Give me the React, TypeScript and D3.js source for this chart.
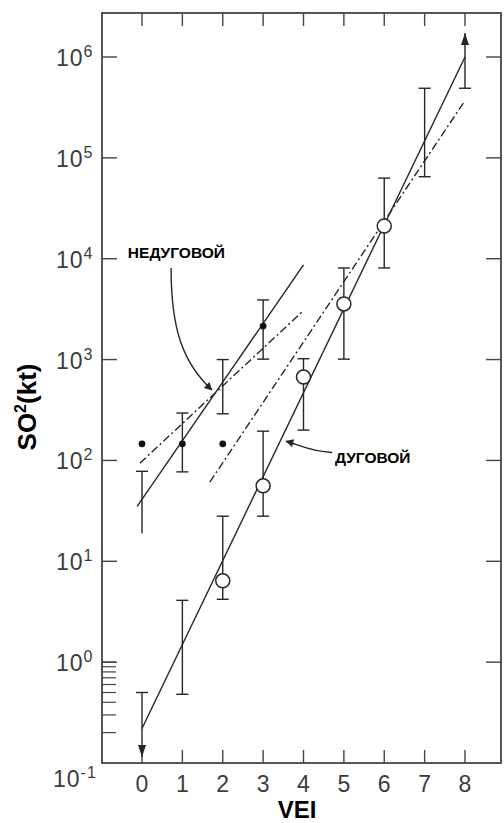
import React from 'react';
import * as d3 from 'd3';

const W = 504;
const H = 823;

// axis data
const veiTicks = [0, 1, 2, 3, 4, 5, 6, 7, 8];
const decadeLabels = [-1, 0, 1, 2, 3, 4, 5, 6];
const majorTickDecades = [0, 1, 2, 3, 4, 5, 6];
const minorTicks = [0.2, 0.3, 0.4, 0.5, 0.6, 0.7, 0.8, 0.9, 1];

// arc volcanism (дуговой) — open circles
const arcVei = [2, 3, 4, 5, 6];
const arcMean = [6.4, 56, 671, 3560, 21100];
// arc error bars
const arcBarVei = [0, 1, 2, 3, 4, 5, 6, 7, 8];
const arcBarLow = [0.115, 0.48, 4.2, 28, 200, 1010, 8100, 65000, 490000];
const arcBarHigh = [0.5, 4.1, 28, 195, 1020, 8100, 63000, 490000, 1.73e6];
const arcBarLowArrow = [true, false, false, false, false, false, false, false, false];
const arcBarHighArrow = [false, false, false, false, false, false, false, false, true];

// non-arc volcanism (недуговой) — filled dots
const nonArcVei = [0, 1, 2, 3];
const nonArcMean = [146, 146, 146, 2150];
const nonArcBarVei = [0, 1, 2, 3];
const nonArcBarLow = [19, 77, 290, 1010];
const nonArcBarHigh = [78, 295, 1000, 3900];
const nonArcBarLowCap = [false, true, true, true];

// regression lines
const arcFitVei = [0, 8];
const arcFit = [0.22, 1e6];
const arcFit2Vei = [1.68, 8];
const arcFit2 = [61, 3.7e5];
const nonArcFitVei = [-0.12, 4];
const nonArcFit = [35, 8700];
const nonArcFit2Vei = [-0.05, 3.96];
const nonArcFit2 = [94, 2960];

// annotations (data coordinates)
const nonArcLabel = { text: 'НЕДУГОВОЙ', v: -0.35, val: 10150 };
const nonArcArrow = { v0: 0.72, val0: 8100, v1: 1.73, val1: 500 };
const arcLabel = { text: 'ДУГОВОЙ', v: 4.78, val: 95 };
const arcArrow = { v0: 4.71, val0: 120, v1: 3.57, val1: 155 };

const FRAME = { left: 102, right: 501, top: 13, bottom: 763 };
const INK = '#262626';
const TICK_INK = '#3c3c3c';
const FONT = '"Liberation Sans", Arial, Helvetica, sans-serif';

export default function App() {
  const x = d3.scaleLinear().domain([0, 8]).range([142, 465]);
  const y = d3.scaleLog().domain([0.1, 1e6]).range([763, 57]);

  const line = d3
    .line<[number, number]>()
    .x((d) => x(d[0]))
    .y((d) => y(d[1]));

  const zip = (a: number[], b: number[]) => a.map((v, i) => [v, b[i]] as [number, number]);

  const cap = 6;
  const majorLen = 15;
  const vTickLen = 13;

  const arrowDown = (cx: number, tipY: number) =>
    `M${cx},${tipY} L${cx - 4},${tipY - 12} L${cx + 4},${tipY - 12} Z`;
  const arrowUp = (cx: number, tipY: number) =>
    `M${cx},${tipY} L${cx - 4},${tipY + 12} L${cx + 4},${tipY + 12} Z`;

  const nx0 = x(nonArcArrow.v0), ny0 = y(nonArcArrow.val0);
  const nx1 = x(nonArcArrow.v1), ny1 = y(nonArcArrow.val1);
  const ax0 = x(arcArrow.v0), ay0 = y(arcArrow.val0);
  const ax1 = x(arcArrow.v1), ay1 = y(arcArrow.val1);

  return (
    <svg
      width={W}
      height={H}
      viewBox={`0 0 ${W} ${H}`}
      style={{ position: 'absolute', left: 0, top: 0, background: '#fff' }}
      fontFamily={FONT}
    >
      <defs>
        <marker id="ah" viewBox="0 0 10 10" refX="9" refY="5" markerWidth="11" markerHeight="8" markerUnits="userSpaceOnUse" orient="auto">
          <path d="M0,0 L10,5 L0,10 Z" fill={INK} />
        </marker>
      </defs>
      <rect x={0} y={0} width={W} height={H} fill="#fff" />

      {/* frame */}
      <rect
        x={FRAME.left}
        y={FRAME.top}
        width={FRAME.right - FRAME.left}
        height={FRAME.bottom - FRAME.top}
        fill="none"
        stroke="#444"
        strokeWidth={1.8}
      />

      {/* x ticks top & bottom */}
      {veiTicks.map((t) => (
        <g key={'xt' + t}>
          <line x1={x(t)} x2={x(t)} y1={FRAME.bottom} y2={FRAME.bottom - vTickLen} stroke="#444" strokeWidth={1.4} />
          <line x1={x(t)} x2={x(t)} y1={FRAME.top} y2={FRAME.top + vTickLen} stroke="#444" strokeWidth={1.4} />
          <text x={x(t)} y={792} textAnchor="middle" fontSize={23} fill={TICK_INK}>
            {t}
          </text>
        </g>
      ))}

      {/* y major ticks left & right */}
      {majorTickDecades.map((d) => (
        <g key={'yt' + d}>
          <line x1={FRAME.left} x2={FRAME.left + majorLen} y1={y(Math.pow(10, d))} y2={y(Math.pow(10, d))} stroke="#444" strokeWidth={1.4} />
          <line x1={FRAME.right} x2={FRAME.right - majorLen} y1={y(Math.pow(10, d))} y2={y(Math.pow(10, d))} stroke="#444" strokeWidth={1.4} />
        </g>
      ))}
      {/* minor ticks */}
      {minorTicks.map((m) => (
        <line key={'mt' + m} x1={FRAME.left} x2={FRAME.left + 14} y1={y(m)} y2={y(m)} stroke="#444" strokeWidth={1.2} />
      ))}

      {/* y labels */}
      {decadeLabels.map((d) => {
        const yy = d === -1 ? y(Math.pow(10, d)) + 24 : y(Math.pow(10, d)) + 9;
        return (
          <text key={'yl' + d} x={d === -1 ? 53 : 56} y={yy} fontSize={23} letterSpacing={1} fill={TICK_INK}>
            10
            <tspan dy={-9} fontSize={16}>
              {d}
            </tspan>
          </text>
        );
      })}

      {/* axis titles */}
      <text x={297} y={818} textAnchor="middle" fontSize={24} fontWeight="bold" fill="#000">
        VEI
      </text>
      <text
        transform={`translate(36,407) rotate(-90)`}
        textAnchor="middle"
        fontSize={26}
        fontWeight="bold"
        fill="#000"
      >
        SO
        <tspan dy={-10} fontSize={16}>
          2
        </tspan>
        <tspan dy={10}>(kt)</tspan>
      </text>

      {/* regression lines */}
      <path d={line(zip(arcFitVei, arcFit)) || ''} fill="none" stroke={INK} strokeWidth={1.4} />
      <path d={line(zip(arcFit2Vei, arcFit2)) || ''} fill="none" stroke={INK} strokeWidth={1.4} strokeDasharray="8,3,2,3" />
      <path d={line(zip(nonArcFitVei, nonArcFit)) || ''} fill="none" stroke={INK} strokeWidth={1.4} />
      <path d={line(zip(nonArcFit2Vei, nonArcFit2)) || ''} fill="none" stroke={INK} strokeWidth={1.4} strokeDasharray="8,3,2,3" />

      {/* arc error bars */}
      {arcBarVei.map((v, i) => {
        const cx = x(v);
        const yl = y(arcBarLow[i]);
        const yh = y(arcBarHigh[i]);
        return (
          <g key={'ab' + i} stroke={INK} strokeWidth={1.4}>
            <line x1={cx} x2={cx} y1={yl} y2={yh} />
            {!arcBarLowArrow[i] && <line x1={cx - cap} x2={cx + cap} y1={yl} y2={yl} />}
            {!arcBarHighArrow[i] && <line x1={cx - cap} x2={cx + cap} y1={yh} y2={yh} />}
            {arcBarLowArrow[i] && <path d={arrowDown(cx, yl)} fill={INK} stroke="none" />}
            {arcBarHighArrow[i] && <path d={arrowUp(cx, yh)} fill={INK} stroke="none" />}
          </g>
        );
      })}

      {/* non-arc error bars */}
      {nonArcBarVei.map((v, i) => {
        const cx = x(v);
        const yl = y(nonArcBarLow[i]);
        const yh = y(nonArcBarHigh[i]);
        return (
          <g key={'nb' + i} stroke={INK} strokeWidth={1.4}>
            <line x1={cx} x2={cx} y1={yl} y2={yh} />
            {nonArcBarLowCap[i] && <line x1={cx - cap} x2={cx + cap} y1={yl} y2={yl} />}
            <line x1={cx - cap} x2={cx + cap} y1={yh} y2={yh} />
          </g>
        );
      })}

      {/* markers */}
      {arcVei.map((v, i) => (
        <circle key={'ac' + i} cx={x(v)} cy={y(arcMean[i])} r={7} fill="#fff" stroke={INK} strokeWidth={1.5} />
      ))}
      {nonArcVei.map((v, i) => (
        <circle key={'nc' + i} cx={x(v)} cy={y(nonArcMean[i])} r={3.4} fill="#111" />
      ))}

      {/* annotations */}
      <text x={x(nonArcLabel.v)} y={y(nonArcLabel.val)} fontSize={15.5} fontWeight="bold" fill="#000">
        {nonArcLabel.text}
      </text>
      <path
        d={`M${nx0},${ny0} C${nx0},${ny0 + 62} ${nx0 + 12},${ny0 + 95} ${nx1},${ny1}`}
        fill="none"
        stroke={INK}
        strokeWidth={1.4}
        markerEnd="url(#ah)"
      />
      <text x={x(arcLabel.v)} y={y(arcLabel.val)} fontSize={15.5} fontWeight="bold" fill="#000">
        {arcLabel.text}
      </text>
      <path
        d={`M${ax0},${ay0} C${ax0 - 22},${ay0 - 1} ${ax1 + 14},${ay1 + 4} ${ax1},${ay1}`}
        fill="none"
        stroke={INK}
        strokeWidth={1.4}
        markerEnd="url(#ah)"
      />
    </svg>
  );
}
